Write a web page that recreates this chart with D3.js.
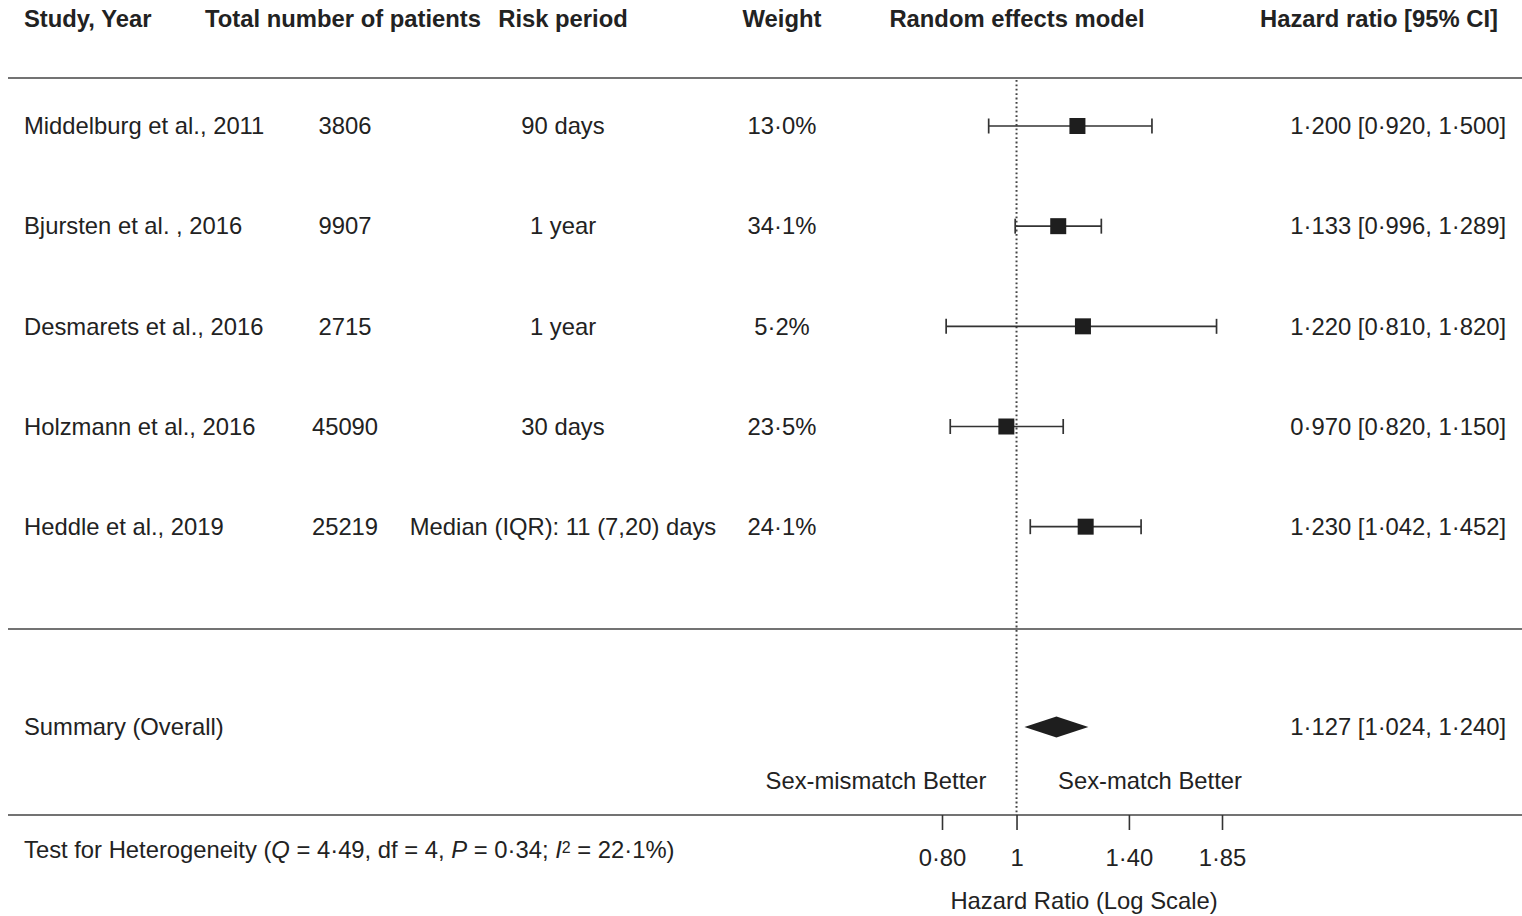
<!DOCTYPE html>
<html>
<head>
<meta charset="utf-8">
<script src="https://cdn.jsdelivr.net/npm/d3@7"></script>
<style>
  html, body { margin: 0; padding: 0; background: #fff; }
  svg { display: block; font-family: "Liberation Sans", Arial, sans-serif; }
</style>
</head>
<body>
<svg id="chart" width="1522" height="916"></svg>
<script>
// Forest plot: sex-mismatched transfusion and mortality, random effects model
const studies   = ["Middelburg et al., 2011", "Bjursten et al. , 2016", "Desmarets et al., 2016", "Holzmann et al., 2016", "Heddle et al., 2019"];
const patients  = ["3806", "9907", "2715", "45090", "25219"];
const riskPeriod = ["90 days", "1 year", "1 year", "30 days", "Median (IQR): 11 (7,20) days"];
const weights   = ["13\u00b70%", "34\u00b71%", "5\u00b72%", "23\u00b75%", "24\u00b71%"];
const hr        = [1.200, 1.133, 1.220, 0.970, 1.230];
const ciLow     = [0.920, 0.996, 0.810, 0.820, 1.042];
const ciHigh    = [1.500, 1.289, 1.820, 1.150, 1.452];

const summaryHr   = 1.127;
const summaryLow  = 1.024;
const summaryHigh = 1.240;

const headers = ["Study, Year", "Total number of patients", "Risk period", "Weight", "Random effects model", "Hazard ratio [95% CI]"];
const tickValues = [0.80, 1, 1.40, 1.85];
const tickLabels = ["0\u00b780", "1", "1\u00b740", "1\u00b785"];

const fmt = v => v.toFixed(3).replace(".", "\u00b7");

const svg = d3.select("#chart");
const ink = "#222";
const rule = "#444";
const fs = 23.8;

// scales
const x = d3.scaleLog().domain([0.80, 1.85]).range([942, 1222]);
const y = d3.scaleLinear().domain([0, 6]).range([126, 727]);

// column anchors
const col = { study: 24, n: 345, risk: 563, weight: 782, model: 1017, hrRight: 1506 };

// header
const head = svg.append("g").attr("font-weight", "bold").attr("font-size", fs).attr("fill", ink);
const headPos = [
  { x: col.study, a: "start" }, { x: 343, a: "middle" }, { x: col.risk, a: "middle" },
  { x: col.weight, a: "middle" }, { x: col.model, a: "middle" }, { x: 1498, a: "end" }
];
head.selectAll("text").data(headers).join("text")
  .attr("x", (d, i) => headPos[i].x)
  .attr("y", 19).attr("dy", "0.35em")
  .attr("text-anchor", (d, i) => headPos[i].a)
  .text(d => d);

// horizontal rules
[78, 629, 815].forEach(yy => {
  svg.append("line").attr("x1", 8).attr("x2", 1522).attr("y1", yy).attr("y2", yy)
    .attr("stroke", rule).attr("stroke-width", 1.6);
});

// reference line at HR = 1
svg.append("line")
  .attr("x1", x(1)).attr("x2", x(1)).attr("y1", 80).attr("y2", 815)
  .attr("stroke", "#444").attr("stroke-width", 2).attr("stroke-dasharray", "1.8,2.6");

// study rows text
const rows = svg.append("g").attr("font-size", fs).attr("fill", ink);
const idx = d3.range(studies.length);
const addCol = (vals, xx, anchor) => rows.append("g").selectAll("text").data(vals).join("text")
  .attr("x", xx).attr("y", (d, i) => y(i)).attr("dy", "0.35em")
  .attr("text-anchor", anchor).text(d => d);
addCol(studies, col.study, "start");
addCol(patients, col.n, "middle");
addCol(riskPeriod, col.risk, "middle");
addCol(weights, col.weight, "middle");
addCol(idx.map(i => `${fmt(hr[i])} [${fmt(ciLow[i])}, ${fmt(ciHigh[i])}]`), col.hrRight, "end");

// confidence intervals
const ci = svg.append("g").attr("stroke", "#333").attr("stroke-width", 1.7);
ci.selectAll("line.h").data(idx).join("line").attr("class", "h")
  .attr("x1", i => x(ciLow[i])).attr("x2", i => x(ciHigh[i]))
  .attr("y1", i => y(i)).attr("y2", i => y(i));
ci.selectAll("line.l").data(idx).join("line").attr("class", "l")
  .attr("x1", i => x(ciLow[i])).attr("x2", i => x(ciLow[i]))
  .attr("y1", i => y(i) - 7.5).attr("y2", i => y(i) + 7.5);
ci.selectAll("line.r").data(idx).join("line").attr("class", "r")
  .attr("x1", i => x(ciHigh[i])).attr("x2", i => x(ciHigh[i]))
  .attr("y1", i => y(i) - 7.5).attr("y2", i => y(i) + 7.5);

// point estimates
const sq = 16;
svg.append("g").selectAll("rect").data(idx).join("rect")
  .attr("x", i => x(hr[i]) - sq / 2).attr("y", i => y(i) - sq / 2)
  .attr("width", sq).attr("height", sq).attr("fill", "#1e1e1e");

// summary row
const ys = y(6);
svg.append("text").attr("x", col.study).attr("y", ys).attr("dy", "0.35em")
  .attr("font-size", fs).attr("fill", ink).text("Summary (Overall)");
svg.append("text").attr("x", col.hrRight).attr("y", ys).attr("dy", "0.35em")
  .attr("text-anchor", "end").attr("font-size", fs).attr("fill", ink)
  .text(`${fmt(summaryHr)} [${fmt(summaryLow)}, ${fmt(summaryHigh)}]`);
svg.append("path")
  .attr("d", `M${x(summaryLow)},${ys} L${x(summaryHr)},${ys - 10.5} L${x(summaryHigh)},${ys} L${x(summaryHr)},${ys + 10.5} Z`)
  .attr("fill", "#1e1e1e");

// direction labels
svg.append("text").attr("x", 876).attr("y", 781).attr("dy", "0.35em").attr("text-anchor", "middle")
  .attr("font-size", fs).attr("fill", ink).text("Sex-mismatch Better");
svg.append("text").attr("x", 1150).attr("y", 781).attr("dy", "0.35em").attr("text-anchor", "middle")
  .attr("font-size", fs).attr("fill", ink).text("Sex-match Better");

// x axis
const axis = d3.axisBottom(x).tickValues(tickValues)
  .tickFormat((d, i) => tickLabels[i]).tickSize(15).tickPadding(19);
const gx = svg.append("g").attr("transform", "translate(0,815)").call(axis);
gx.select(".domain").remove();
gx.selectAll(".tick line").attr("stroke", "#333").attr("stroke-width", 1.6);
gx.selectAll(".tick text").attr("font-size", fs).attr("fill", ink)
  .attr("font-family", "Liberation Sans, Arial, sans-serif");
svg.append("text").attr("x", 1084).attr("y", 901).attr("dy", "0.35em").attr("text-anchor", "middle")
  .attr("font-size", fs).attr("fill", ink).text("Hazard Ratio (Log Scale)");

// heterogeneity statistics
const het = svg.append("text").attr("x", col.study).attr("y", 850).attr("dy", "0.35em")
  .attr("font-size", fs).attr("fill", ink);
het.append("tspan").text("Test for Heterogeneity (");
het.append("tspan").attr("font-style", "italic").text("Q");
het.append("tspan").text(" = 4\u00b749, df = 4, ");
het.append("tspan").attr("font-style", "italic").text("P");
het.append("tspan").text(" = 0\u00b734; ");
het.append("tspan").attr("font-style", "italic").text("I");
het.append("tspan").attr("font-size", 16).attr("dy", "-0.35em").text("2");
het.append("tspan").attr("dy", "0.23em").text(" = 22\u00b71%)");
</script>
</body>
</html>
